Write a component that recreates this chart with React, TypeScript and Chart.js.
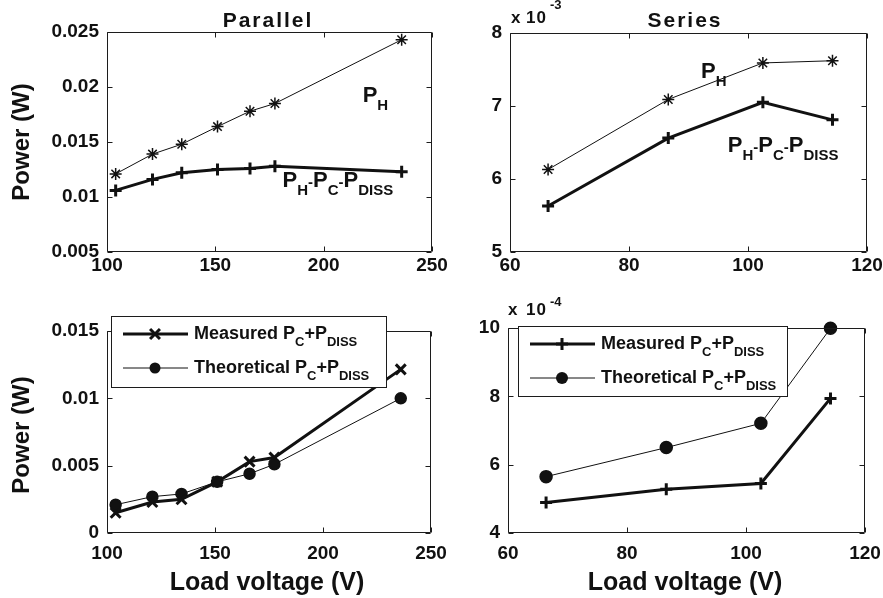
import React, { useEffect, useRef } from 'react';
import { Chart, registerables } from 'chart.js';

Chart.register(...registerables);

const FONT = '"Liberation Sans", Arial, Helvetica, sans-serif';
const INK = '#111111';

// ---------- data ----------
const parallelVoltage = [104, 121, 134.5, 151, 166, 177.5, 236];
const parallelPH = [0.0121, 0.0139, 0.0148, 0.0164, 0.0178, 0.0185, 0.0243];
const parallelNet = [0.0106, 0.0116, 0.0122, 0.0125, 0.0126, 0.0128, 0.0123];
const parallelMeasured = [0.0015, 0.0023, 0.0025, 0.0038, 0.0053, 0.0056, 0.01215];
const parallelTheoretical = [0.0021, 0.0027, 0.0029, 0.0038, 0.0044, 0.0051, 0.01];

const seriesVoltage = [66.4, 86.6, 102.5, 114.2];
const seriesPH = [6.13e-3, 7.09e-3, 7.59e-3, 7.62e-3];
const seriesNet = [5.63e-3, 6.56e-3, 7.05e-3, 6.81e-3];
const seriesMeasured = [4.89e-4, 5.28e-4, 5.45e-4, 7.94e-4];
const seriesTheoretical = [5.65e-4, 6.5e-4, 7.21e-4, 9.99e-4];

const parallelXTicks = { min: 100, max: 250, step: 50 };
const seriesXTicks = { min: 60, max: 120, step: 20 };
const parallelTopYTicks = { min: 0.005, max: 0.025, step: 0.005 };
const seriesTopYTicks = { min: 5e-3, max: 8e-3, step: 1e-3 };
const parallelBottomYTicks = { min: 0, max: 0.015, step: 0.005 };
const seriesBottomYTicks = { min: 4e-4, max: 1e-3, step: 2e-4 };

// ---------- helpers ----------
type Kind = 'n' | 's' | 'd' | 'u';
type Part = [string, Kind];

const pts = (xs: number[], ys: number[]) => xs.map((x, i) => ({ x, y: ys[i] }));

function drawRich(ctx: CanvasRenderingContext2D, parts: Part[], x: number, y: number, n: number, s: number, off: number) {
  let cx = x;
  ctx.textAlign = 'left';
  ctx.textBaseline = 'alphabetic';
  for (const [t, k] of parts) {
    const size = k === 'n' ? n : s;
    ctx.font = `bold ${size}px ${FONT}`;
    const dy = k === 's' ? off : k === 'u' ? -off : 0;
    ctx.fillText(t, cx, y + dy);
    cx += ctx.measureText(t).width;
  }
}

function drawMarker(ctx: CanvasRenderingContext2D, style: string, x: number, y: number, r: number, lw: number) {
  ctx.save();
  ctx.lineWidth = lw;
  ctx.strokeStyle = INK;
  ctx.fillStyle = INK;
  ctx.beginPath();
  if (style === 'circle') {
    ctx.arc(x, y, r, 0, Math.PI * 2);
    ctx.fill();
  } else {
    const d = Math.cos(Math.PI / 4) * r;
    if (style === 'cross' || style === 'star') {
      ctx.moveTo(x - r, y); ctx.lineTo(x + r, y);
      ctx.moveTo(x, y - r); ctx.lineTo(x, y + r);
    }
    if (style === 'crossRot' || style === 'star') {
      ctx.moveTo(x - d, y - d); ctx.lineTo(x + d, y + d);
      ctx.moveTo(x - d, y + d); ctx.lineTo(x + d, y - d);
    }
    ctx.stroke();
  }
  ctx.restore();
}

interface TextItem { text: string; x: number; y: number; size: number; align?: CanvasTextAlign; rotate?: boolean; spacing?: number; }
interface Annot { x: number; y: number; parts: Part[]; }
interface LegendRow { ds: number; parts: Part[]; }
interface Legend { x: number; y: number; w: number; h: number; rows: LegendRow[]; }
interface Box { x: number; y: number; w: number; h: number; }
interface Area { l: number; t: number; r: number; b: number; }
interface Ticks { min: number; max: number; step: number; }

interface PanelSpec {
  box: Box;
  area: Area;
  xt: Ticks;
  yt: Ticks;
  yFmt: (v: number) => string;
  xPad: number;
  datasets: any[];
  texts: TextItem[];
  annots: Annot[];
  legend?: Legend;
}

function makeDecor(spec: PanelSpec) {
  return {
    id: 'decor',
    afterDraw(chart: any) {
      const ctx: CanvasRenderingContext2D = chart.ctx;
      const { left, right, top, bottom } = chart.chartArea;
      const xs = chart.scales.x;
      const ys = chart.scales.y;
      const ox = spec.box.x;
      const oy = spec.box.y;
      ctx.save();
      // frame
      ctx.strokeStyle = '#1c1c1c';
      ctx.lineWidth = 1;
      const L = Math.round(left) + 0.5, R = Math.round(right) - 0.5;
      const T = Math.round(top) + 0.5, B = Math.round(bottom) - 0.5;
      ctx.beginPath();
      ctx.rect(L, T, R - L, B - T);
      const tl = 5;
      xs.ticks.forEach((t: any) => {
        const px = Math.round(xs.getPixelForValue(t.value)) + 0.5;
        ctx.moveTo(px, B); ctx.lineTo(px, B - tl);
        ctx.moveTo(px, T); ctx.lineTo(px, T + tl);
      });
      ys.ticks.forEach((t: any) => {
        const py = Math.round(ys.getPixelForValue(t.value)) + 0.5;
        ctx.moveTo(L, py); ctx.lineTo(L + tl, py);
        ctx.moveTo(R, py); ctx.lineTo(R - tl, py);
      });
      ctx.stroke();

      ctx.fillStyle = INK;
      // free texts
      for (const t of spec.texts) {
        ctx.save();
        ctx.font = `bold ${t.size}px ${FONT}`;
        (ctx as any).letterSpacing = `${t.spacing || 0}px`;
        if (t.rotate) {
          ctx.translate(t.x - ox, t.y - oy);
          ctx.rotate(-Math.PI / 2);
          ctx.textAlign = 'center';
          ctx.textBaseline = 'middle';
          ctx.fillText(t.text, 0, 0);
        } else {
          ctx.textAlign = t.align || 'left';
          ctx.textBaseline = 'alphabetic';
          ctx.fillText(t.text, t.x - ox, t.y - oy);
        }
        ctx.restore();
      }
      // annotations in data coordinates
      for (const a of spec.annots) {
        drawRich(ctx, a.parts, xs.getPixelForValue(a.x), ys.getPixelForValue(a.y), 22, 15, 8);
      }
      // legend
      if (spec.legend) {
        const lg = spec.legend;
        const bx = lg.x - ox, by = lg.y - oy;
        ctx.fillStyle = '#ffffff';
        ctx.fillRect(bx, by, lg.w, lg.h);
        ctx.strokeStyle = '#1c1c1c';
        ctx.lineWidth = 1;
        ctx.strokeRect(bx + 0.5, by + 0.5, lg.w - 1, lg.h - 1);
        lg.rows.forEach((row, i) => {
          const ds = chart.data.datasets[row.ds];
          const ry = by + 18 + i * 34;
          ctx.strokeStyle = INK;
          ctx.lineWidth = ds.borderWidth;
          ctx.beginPath();
          ctx.moveTo(bx + 12, ry);
          ctx.lineTo(bx + 77, ry);
          ctx.stroke();
          drawMarker(ctx, ds.pointStyle, bx + 44, ry, ds.pointRadius, ds.pointBorderWidth);
          ctx.fillStyle = INK;
          drawRich(ctx, row.parts, bx + 83, ry + 5, 18, 13, 7);
        });
      }
      ctx.restore();
    },
  };
}

function buildConfig(spec: PanelSpec): any {
  const { box, area } = spec;
  const tickFont = { family: FONT, size: 19, weight: 'bold' as const };
  return {
    type: 'line',
    data: { datasets: spec.datasets },
    options: {
      animation: false,
      responsive: false,
      events: [],
      layout: { padding: { top: area.t - box.y, right: box.x + box.w - area.r, left: 0, bottom: 0 } },
      plugins: { legend: { display: false }, tooltip: { enabled: false } },
      scales: {
        x: {
          type: 'linear',
          min: spec.xt.min,
          max: spec.xt.max,
          ticks: {
            stepSize: spec.xt.step,
            autoSkip: false,
            maxRotation: 0,
            font: tickFont,
            color: INK,
            padding: spec.xPad,
            callback: (v: number) => String(v),
          },
          grid: { display: false, drawTicks: false },
          border: { display: false },
          afterFit: (s: any) => {
            s.height = box.y + box.h - area.b;
            s.paddingLeft = 0;
            s.paddingRight = 0;
          },
        },
        y: {
          type: 'linear',
          min: spec.yt.min,
          max: spec.yt.max,
          ticks: {
            stepSize: spec.yt.step,
            autoSkip: false,
            font: tickFont,
            color: INK,
            padding: 8,
            callback: (v: number) => spec.yFmt(v),
          },
          grid: { display: false, drawTicks: false },
          border: { display: false },
          afterFit: (s: any) => {
            s.width = area.l - box.x;
            s.paddingTop = 0;
            s.paddingBottom = 0;
          },
        },
      },
    },
    plugins: [makeDecor(spec)],
  };
}

const thin = (label: string, data: any[], pointStyle: string, r: number) => ({
  label, data, showLine: true, tension: 0, fill: false,
  borderColor: INK, backgroundColor: INK, borderWidth: 1,
  pointStyle, pointRadius: r, pointBorderWidth: 1.5,
  pointBorderColor: INK, pointBackgroundColor: INK, clip: false,
});
const thick = (label: string, data: any[], pointStyle: string, r: number) => ({
  label, data, showLine: true, tension: 0, fill: false,
  borderColor: INK, backgroundColor: INK, borderWidth: 3,
  pointStyle, pointRadius: r, pointBorderWidth: 3,
  pointBorderColor: INK, pointBackgroundColor: INK, clip: false,
});

const netParts: Part[] = [['P', 'n'], ['H', 's'], ['-', 'd'], ['P', 'n'], ['C', 's'], ['-', 'd'], ['P', 'n'], ['DISS', 's']];
const phParts: Part[] = [['P', 'n'], ['H', 's']];
const measParts: Part[] = [['Measured P', 'n'], ['C', 's'], ['+P', 'n'], ['DISS', 's']];
const theoParts: Part[] = [['Theoretical P', 'n'], ['C', 's'], ['+P', 'n'], ['DISS', 's']];

const fmtPlain = (v: number) => String(parseFloat(v.toFixed(4)));

const panels: PanelSpec[] = [
  {
    box: { x: 0, y: 0, w: 460, h: 290 },
    area: { l: 107, t: 32, r: 432, b: 252 },
    xt: parallelXTicks,
    yt: parallelTopYTicks,
    yFmt: fmtPlain,
    xPad: 2,
    datasets: [
      thin('P_H', pts(parallelVoltage, parallelPH), 'star', 6),
      thick('P_H-P_C-P_DISS', pts(parallelVoltage, parallelNet), 'cross', 6),
    ],
    texts: [
      { text: 'Parallel', x: 268, y: 27, size: 21, align: 'center', spacing: 2 },
      { text: 'Power (W)', x: 22, y: 142, size: 24, rotate: true },
    ],
    annots: [
      { x: 218, y: 0.0186, parts: phParts },
      { x: 181, y: 0.0109, parts: netParts },
    ],
  },
  {
    box: { x: 450, y: 0, w: 433, h: 290 },
    area: { l: 510, t: 33, r: 867, b: 252 },
    xt: seriesXTicks,
    yt: seriesTopYTicks,
    yFmt: (v) => String(Math.round(v * 1e3)),
    xPad: 2,
    datasets: [
      thin('P_H', pts(seriesVoltage, seriesPH), 'star', 6),
      thick('P_H-P_C-P_DISS', pts(seriesVoltage, seriesNet), 'cross', 6),
    ],
    texts: [
      { text: 'Series', x: 685, y: 27, size: 21, align: 'center', spacing: 2 },
      { text: 'x', x: 511, y: 23, size: 17 },
      { text: '10', x: 526, y: 23, size: 17, spacing: 1 },
      { text: '-3', x: 550, y: 9, size: 13 },
    ],
    annots: [
      { x: 92.1, y: 7.38e-3, parts: phParts },
      { x: 96.6, y: 6.37e-3, parts: netParts },
    ],
  },
  {
    box: { x: 0, y: 290, w: 460, h: 308 },
    area: { l: 107, t: 331, r: 431, b: 533 },
    xt: parallelXTicks,
    yt: parallelBottomYTicks,
    yFmt: fmtPlain,
    xPad: 9,
    datasets: [
      thick('Measured', pts(parallelVoltage, parallelMeasured), 'crossRot', 7),
      thin('Theoretical', pts(parallelVoltage, parallelTheoretical), 'circle', 5.5),
    ],
    texts: [
      { text: 'Power (W)', x: 22, y: 435, size: 24, rotate: true },
      { text: 'Load voltage (V)', x: 267, y: 590, size: 25, align: 'center' },
    ],
    annots: [],
    legend: {
      x: 111, y: 316, w: 276, h: 72,
      rows: [{ ds: 0, parts: measParts }, { ds: 1, parts: theoParts }],
    },
  },
  {
    box: { x: 450, y: 290, w: 433, h: 308 },
    area: { l: 508, t: 328, r: 865, b: 533 },
    xt: seriesXTicks,
    yt: seriesBottomYTicks,
    yFmt: (v) => String(Math.round(v * 1e4)),
    xPad: 9,
    datasets: [
      thick('Measured', pts(seriesVoltage, seriesMeasured), 'cross', 6),
      thin('Theoretical', pts(seriesVoltage, seriesTheoretical), 'circle', 6),
    ],
    texts: [
      { text: 'x', x: 508, y: 315, size: 17 },
      { text: '10', x: 526, y: 315, size: 17, spacing: 1 },
      { text: '-4', x: 550, y: 306, size: 13 },
      { text: 'Load voltage (V)', x: 685, y: 590, size: 25, align: 'center' },
    ],
    annots: [],
    legend: {
      x: 518, y: 326, w: 270, h: 71,
      rows: [{ ds: 0, parts: measParts }, { ds: 1, parts: theoParts }],
    },
  },
];

function Panel({ spec }: { spec: PanelSpec }) {
  const ref = useRef<HTMLCanvasElement>(null);
  useEffect(() => {
    if (!ref.current) return;
    const chart = new Chart(ref.current, buildConfig(spec));
    return () => chart.destroy();
  }, [spec]);
  const { box } = spec;
  return (
    <div style={{ position: 'absolute', left: box.x, top: box.y, width: box.w, height: box.h }}>
      <canvas ref={ref} width={box.w} height={box.h} style={{ width: box.w, height: box.h, display: 'block' }} />
    </div>
  );
}

export default function App() {
  return (
    <div style={{ position: 'fixed', left: 0, top: 0, width: 883, height: 598, background: '#ffffff', overflow: 'hidden' }}>
      {panels.map((p, i) => (
        <Panel key={i} spec={p} />
      ))}
    </div>
  );
}
